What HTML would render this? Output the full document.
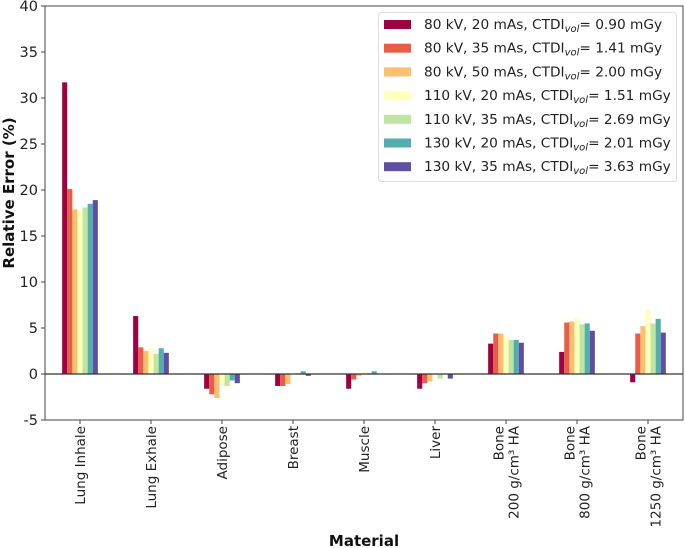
<!DOCTYPE html>
<html><head><meta charset="utf-8"><style>
html,body{margin:0;padding:0;background:#fff;}
svg{display:block;font-family:"DejaVu Sans","Liberation Sans",sans-serif;}
</style></head><body>
<svg id="chart" width="685" height="548"></svg>
<script>
const categories = [["Lung Inhale"],["Lung Exhale"],["Adipose"],["Breast"],["Muscle"],["Liver"],["Bone","200 g/cm³ HA"],["Bone","800 g/cm³ HA"],["Bone","1250 g/cm³ HA"]];
const seriesLabels = ["80 kV, 20 mAs, CTDI|0.90","80 kV, 35 mAs, CTDI|1.41","80 kV, 50 mAs, CTDI|2.00","110 kV, 20 mAs, CTDI|1.51","110 kV, 35 mAs, CTDI|2.69","130 kV, 20 mAs, CTDI|2.01","130 kV, 35 mAs, CTDI|3.63"];
const seriesColors = ["#9e0142","#e95c47","#fdbe6f","#ffffbe","#bfe5a0","#54aead","#5e4fa2"];
const s1 = [31.7, 6.3, -1.6, -1.3, -1.6, -1.6, 3.3, 2.4, -0.9];
const s2 = [20.1, 2.9, -2.2, -1.3, -0.6, -1.0, 4.4, 5.6, 4.4];
const s3 = [17.9, 2.5, -2.6, -1.1, -0.2, -0.8, 4.4, 5.7, 5.2];
const s4 = [17.8, 2.75, -1.2, 0.0, 0.2, 0.0, 4.1, 6.1, 7.0];
const s5 = [18.1, 2.2, -1.3, 0.1, 0.1, -0.5, 3.7, 5.4, 5.5];
const s6 = [18.5, 2.8, -0.7, 0.3, 0.3, 0.0, 3.7, 5.5, 6.0];
const s7 = [18.9, 2.3, -1.0, -0.2, 0.05, -0.5, 3.4, 4.7, 4.5];
const series = [s1,s2,s3,s4,s5,s6,s7];
const yTicks = [-5,0,5,10,15,20,25,30,35,40];

const NS="http://www.w3.org/2000/svg";
const svg=document.getElementById('chart');
const L=45,R=683,T=6,B=420,ymin=-5,ymax=40;
const y=v=>T+(ymax-v)/(ymax-ymin)*(B-T);
const gap=71, x0=80;
const xc=i=>x0+i*gap;
const bw=5.1;
function el(t,a,p){const e=document.createElementNS(NS,t);for(const k in a)e.setAttribute(k,a[k]);(p||svg).appendChild(e);return e;}

series.forEach((s,si)=>{
  s.forEach((v,ci)=>{
    const x=xc(ci)+(si-3.5)*bw;
    const r=el('rect',{x:x,y:Math.min(y(v),y(0)),width:bw,height:Math.abs(y(v)-y(0)),fill:seriesColors[si]});
    
    
  });
});
const z=el('line',{x1:L,x2:R,y1:y(0),y2:y(0),stroke:'#333','stroke-width':1.3});


const f=el('rect',{x:L,y:T,width:R-L,height:B-T,fill:'none',stroke:'#444','stroke-width':1});


yTicks.forEach(t=>{
  el('line',{x1:L-4,x2:L,y1:y(t),y2:y(t),stroke:'#444'});
  const tx=el('text',{x:L-7,y:y(t)+5,'text-anchor':'end','font-size':14.5,fill:'#222'});
  tx.textContent=t;
  
  
});
categories.forEach((c,i)=>{
  const x=xc(i);
  el('line',{x1:x,x2:x,y1:B,y2:B+4,stroke:'#444'});
  c.forEach((line,li)=>{
    const off=(li-(c.length-1)/2)*15+5;
    const tx=el('text',{x:0,y:0,'text-anchor':'end','font-size':13.5,fill:'#222',transform:`translate(${x+off},${B+6}) rotate(-90)`});
    tx.textContent=line;
    
    
  });
});
const xt=el('text',{x:364,y:546,'text-anchor':'middle','font-size':15,'font-weight':'bold',fill:'#111'});
xt.textContent='Material';


const yt=el('text',{x:0,y:0,'text-anchor':'middle','font-size':15,'font-weight':'bold',fill:'#111',transform:`translate(14,${(T+B)/2-20}) rotate(-90)`});
yt.textContent='Relative Error (%)';


const lg=el('g',{});


el('rect',{x:378.5,y:12.5,width:298,height:169,rx:3,fill:'#fff',stroke:'#ddd'},lg);
seriesLabels.forEach((lab,i)=>{
  const ry=24+i*23.7;
  const p=el('rect',{x:384,y:ry-4,width:27,height:9,fill:seriesColors[i]},lg);
  
  
  const [a,b]=lab.split('|');
  const tx=el('text',{x:424,y:ry+5,'font-size':13.7,fill:'#222'},lg);
  
  
  const t1=el('tspan',{},tx);t1.textContent=a;
  const t2=el('tspan',{'font-size':10,'font-style':'italic',dy:3},tx);t2.textContent='vol';
  const t3=el('tspan',{dy:-3},tx);t3.textContent='= '+b+' mGy';
});
</script>
</body></html>
